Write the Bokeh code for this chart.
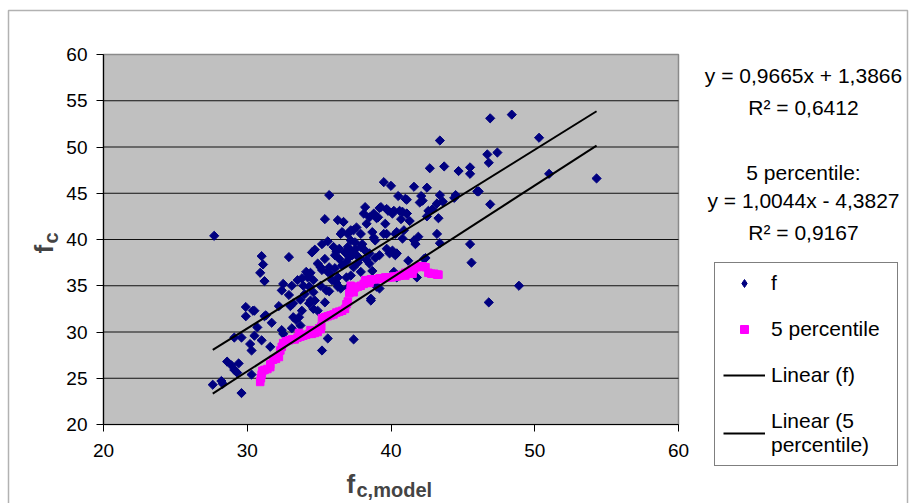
import numpy as np
from bokeh.plotting import figure
from bokeh.models import Range1d, Label, Legend, LegendItem, BoxAnnotation, FixedTicker
from bokeh.embed import file_html
from bokeh.resources import INLINE

# ---- measured strength vs. model strength --------------------------------
f_model = [
    27.7, 27.6, 28.2, 28.3, 28.6, 28.9, 29.4, 29.1, 29.3, 29.6, 29.1, 29.6, 30.3,
    29.9, 29.9, 30.4, 30.2, 30.3, 30.7, 30.5, 31.0, 31.6, 31.2, 31.7, 30.5, 31.3,
    32.2, 31.0, 31.1, 30.9, 31.2, 32.9, 32.4, 32.9, 33.2, 33.7, 33.8, 33.2, 34.3,
    34.6, 34.7, 33.7, 33.1, 32.5, 35.2, 35.6, 37.4, 35.4, 35.7, 34.6, 35.1, 33.9,
    33.5, 34.2, 32.5, 33.1, 36.2, 36.5, 37.2, 37.0, 38.6, 39.2, 35.6, 35.2,
    39.5, 40.0, 40.5, 35.7, 38.2, 39.2, 39.7, 40.2, 38.1, 38.5, 39.0, 35.4, 36.3,
    36.7, 38.3, 39.6, 37.6, 37.4, 36.6, 38.7, 40.4, 39.7, 38.8, 35.6, 35.2, 37.2,
    37.5, 34.7, 34.5, 36.0, 36.4, 37.0, 37.2, 37.9, 38.2, 38.5, 39.7, 40.1, 40.4,
    39.2, 36.1, 35.4, 36.4, 37.1, 37.6, 34.9, 35.7, 36.6, 37.4, 38.5, 37.9, 38.7,
    34.1, 34.4, 35.8, 36.3, 40.2, 40.4,
    42.7, 43.7, 44.7, 45.5, 45.5, 46.7, 47.4, 46.8, 46.9, 46.1, 45.5, 45.6, 43.4,
    41.6, 42.5, 41.1, 42.1, 42.0, 43.4, 43.2, 43.6, 44.4, 42.6, 42.5, 43.3, 40.8,
    41.1, 40.7, 40.3, 41.9, 43.2, 43.4, 40.8, 41.6, 41.7, 40.3, 41.2, 42.4, 41.8,
    46.9, 48.4, 50.3, 51.0, 54.3, 48.9, 46.8,
    33.6, 33.0, 33.4, 34.0, 34.3, 34.4, 34.9, 35.5, 35.9, 36.1, 36.3, 36.9, 38.6,
    39.0, 39.9, 40.2, 41.3, 40.9, 42.3, 33.8, 34.6, 34.2, 35.1, 36.5, 37.0, 37.2,
    37.9, 38.9, 39.5, 39.1, 38.8, 39.3, 39.8, 40.1, 40.6, 41.0, 41.1, 42.2, 42.9,
    44.5, 46.0, 36.8, 37.3, 37.8, 38.0, 37.5, 36.9, 38.3, 37.7, 36.2, 38.9, 32.4,
    33.7, 32.7,
]
f_c = [
    40.4, 24.3, 24.7, 24.4, 26.8, 26.4, 26.6, 25.9, 25.6, 23.4, 29.4, 29.4, 25.4,
    32.7, 31.7, 32.3, 28.7, 28.0, 30.5, 29.6, 29.1, 28.4, 31.7, 31.0, 32.3, 31.8,
    32.8, 38.2, 37.3, 36.4, 35.5, 38.1, 34.5, 34.0, 33.1, 33.5, 32.3, 31.6, 33.1,
    32.5, 33.4, 30.7, 30.4, 29.8, 28.0, 29.3, 29.2, 33.2, 34.4, 34.3, 35.0, 35.0,
    35.6, 35.9, 35.2, 35.0, 35.3, 34.7, 36.1, 34.8, 33.4, 34.7, 36.5, 36.7,
    46.2, 45.8, 44.7, 44.8, 43.5, 43.4, 43.3, 43.1, 42.8, 42.4, 42.3, 42.2, 42.1,
    41.9, 41.7, 41.7, 41.3, 41.0, 40.8, 40.8, 40.8, 40.6, 40.2, 39.8, 39.5, 39.9,
    39.7, 38.9, 38.6, 39.2, 39.0, 39.2, 38.8, 39.2, 38.8, 38.5, 39.0, 38.8, 38.5,
    38.3, 38.3, 37.9, 37.9, 38.1, 38.3, 37.4, 37.0, 37.2, 37.0, 37.4, 36.5, 36.6,
    36.5, 36.4, 36.3, 35.9, 36.5, 35.9,
    47.7, 47.9, 47.4, 47.8, 47.1, 49.2, 49.4, 48.3, 43.8, 45.2, 39.5, 37.5, 50.7,
    45.7, 45.6, 44.3, 44.7, 44.0, 44.8, 43.9, 44.1, 44.5, 43.1, 42.5, 42.3, 43.0,
    42.8, 42.2, 40.6, 40.3, 40.6, 39.6, 40.1, 39.9, 39.5, 38.3, 37.7, 38.0, 35.9,
    53.1, 53.5, 51.0, 47.1, 46.6, 35.0, 33.2,
    31.6, 32.8, 31.3, 34.1, 34.9, 33.4, 32.3, 34.5, 35.6, 36.9, 34.9, 35.9, 33.6,
    34.9, 38.5, 38.5, 42.0, 41.0, 37.9, 35.8, 35.6, 36.3, 37.0, 40.6, 40.6, 41.0,
    40.6, 39.9, 40.6, 42.4, 42.8, 43.5, 43.1, 42.8, 43.1, 44.4, 42.8, 44.2, 43.3,
    44.8, 45.2, 38.6, 38.3, 38.0, 39.5, 38.9, 37.6, 37.8, 37.5, 38.7, 38.0, 30.2,
    29.5, 29.1,
]

# ---- 5 percentile series ---------------------------------------------------
p5_model = [
    30.9, 30.95, 31.0, 31.05, 31.2, 31.4, 31.6, 31.6, 31.8, 32.0, 32.2, 32.3, 32.4,
    32.5, 32.7, 32.9, 33.1, 33.3, 33.5, 33.7, 33.9, 34.1, 34.3, 34.5, 34.7, 34.9,
    35.1, 35.15, 35.2, 35.4, 35.6, 35.8, 36.0, 36.2, 36.4, 36.6, 36.8, 36.9, 37.0,
    37.1, 37.2, 37.3, 37.5, 37.7, 37.9, 38.1, 38.3, 38.4, 38.6, 38.8, 39.0, 39.2,
    39.4, 39.6, 39.8, 40.0, 40.2, 40.4, 40.6, 40.8, 41.0, 41.2, 41.4, 41.6, 41.8,
    42.0, 42.2, 42.4, 42.6, 42.8, 43.0, 43.2, 43.3,
    33.6, 34.4, 35.0, 37.2, 37.4, 38.2, 38.5, 41.0, 41.5,
]
p5_c = [
    24.6, 25.0, 25.4, 25.8, 25.9, 26.0, 26.2, 26.5, 27.0, 27.1, 27.3, 28.0, 28.4,
    28.8, 29.0, 29.1, 29.2, 29.2, 29.4, 29.5, 29.6, 29.7, 29.8, 29.8, 29.9, 30.0,
    30.3, 30.6, 31.5, 31.6, 31.7, 31.8, 31.9, 32.1, 32.2, 32.3, 32.5, 33.0, 33.3,
    34.2, 34.5, 34.7, 34.8, 34.9, 35.0, 35.2, 35.4, 35.6, 35.7, 35.7, 35.7, 35.8,
    35.8, 35.9, 35.9, 35.9, 36.0, 36.0, 36.1, 36.2, 36.4, 36.5, 36.7, 36.8, 37.0,
    37.1, 37.1, 37.0, 36.4, 36.3, 36.3, 36.2, 36.2,
    29.9, 30.2, 30.4, 35.0, 34.3, 35.6, 35.3, 36.1, 36.3,
]

# linear trend coefficients (slope, intercept) and R^2
fit_f = (0.9665, 1.3866)
fit_p5 = (1.0044, -4.3827)
r2_f = 0.6412
r2_p5 = 0.9167

x_ticks = [20, 30, 40, 50, 60]
y_ticks = [20, 25, 30, 35, 40, 45, 50, 55, 60]

# ---- canvas geometry ---------------------------------------------------------
# The frame fills the whole canvas; the axes are pinned to the plot-area corner
# so that titles, legend and equations can sit around it without being clipped.
W, H = 910, 503
FL, FR, FT, FB = 103, 678, 54, 424          # plot-area edges in canvas pixels
X0, X1, Y0, Y1 = x_ticks[0], x_ticks[-1], y_ticks[0], y_ticks[-1]
kx = (X1 - X0) / (FR - FL)
ky = (Y1 - Y0) / (FB - FT)


def dx(px):
    return X0 + (px - FL) * kx


def dy(py):
    return Y0 + (FB - py) * ky


FONT = "Liberation Sans"
NAVY = "#000080"
MAGENTA = "#FF00FF"

p = figure(width=W, height=H,
           x_range=Range1d(dx(0), dx(W)), y_range=Range1d(dy(H), dy(0)),
           output_backend="svg", toolbar_location=None,
           min_border=0, min_border_left=0, min_border_right=0,
           min_border_top=0, min_border_bottom=0)
p.background_fill_color = "white"
p.border_fill_color = "white"
p.outline_line_color = None
p.grid.visible = False

# plot area
p.quad(left=X0, right=X1, bottom=Y0, top=Y1, fill_color="#C0C0C0",
       line_color="#8a8a8a", line_width=1.5)
gy = y_ticks[1:-1]
p.segment(x0=[X0] * len(gy), x1=[X1] * len(gy), y0=gy, y1=gy,
          line_color="#111111", line_width=1)

for ax, ticks, standoff, loc in ((p.xaxis, x_ticks, 12, Y0),
                                  (p.yaxis, y_ticks, 9, X0)):
    ax.fixed_location = loc
    ax.bounds = (ticks[0], ticks[-1])
    ax.ticker = FixedTicker(ticks=ticks)
    ax.major_tick_out = 7
    ax.major_tick_in = 0
    ax.minor_tick_line_color = None
    ax.axis_line_color = "black"
    ax.axis_line_width = 1.2
    ax.major_tick_line_color = "black"
    ax.major_label_text_font = FONT
    ax.major_label_text_font_size = "19px"
    ax.major_label_text_color = "black"
    ax.major_label_standoff = standoff

# ---- data --------------------------------------------------------------------
r_f = p.scatter(f_model, f_c, marker="square", angle=np.pi / 4, size=6.5,
                fill_color=NAVY, line_color=NAVY)
r_p5 = p.scatter(p5_model, p5_c, marker="square", size=7.5,
                 fill_color=MAGENTA, line_color=MAGENTA)

xs_fit = [min(f_model), max(f_model)]
r_lf = p.line(xs_fit, [fit_f[0] * x + fit_f[1] for x in xs_fit],
              line_color="black", line_width=2)
r_lp5 = p.line(xs_fit, [fit_p5[0] * x + fit_p5[1] for x in xs_fit],
               line_color="black", line_width=2)

# legend swatches: the legend draws markers unrotated and at their own size,
# so small stand-in glyphs with no visible point carry the legend symbols
key_f = p.scatter(x=[np.nan], y=[np.nan], marker="diamond", size=11,
                  fill_color=NAVY, line_color=NAVY)
key_p5 = p.scatter(x=[np.nan], y=[np.nan], marker="square", size=7,
                   fill_color=MAGENTA, line_color=MAGENTA)

# ---- legend --------------------------------------------------------------------
legend = Legend(items=[
    LegendItem(label="f", renderers=[key_f]),
    LegendItem(label="5 percentile", renderers=[key_p5]),
    LegendItem(label="Linear (f)", renderers=[r_lf]),
    LegendItem(label="Linear (5\npercentile)", renderers=[r_lp5]),
], location=(714, H - 466), margin=0, padding=8, spacing=22,
    glyph_width=42, glyph_height=20, label_height=20, label_width=118,
    label_standoff=6, label_text_font=FONT, label_text_font_size="21px",
    label_text_color="black", border_line_color="black", border_line_width=1,
    background_fill_color="white", background_fill_alpha=1.0)
p.add_layout(legend)

# ---- trend-line equations ------------------------------------------------------


def fmt(v):
    return f"{abs(v):.4f}".replace(".", ",")


eq_lines = [
    (f"y = {fmt(fit_f[0])}x {'+' if fit_f[1] >= 0 else '-'} {fmt(fit_f[1])}", 75),
    (f"R² = {fmt(r2_f)}", 107),
    ("5 percentile:", 172),
    (f"y = {fmt(fit_p5[0])}x {'+' if fit_p5[1] >= 0 else '-'} {fmt(fit_p5[1])}", 200),
    (f"R² = {fmt(r2_p5)}", 232),
]
for txt, py in eq_lines:
    p.add_layout(Label(x=dx(803), y=dy(py), text=txt, text_align="center",
                       text_baseline="middle", text_font=FONT,
                       text_font_size="21px", text_color="black"))

# ---- axis titles -------------------------------------------------------------
p.add_layout(Label(x=dx(346), y=dy(483), text="f", text_font=FONT,
                   text_font_style="bold", text_font_size="26px",
                   text_baseline="alphabetic", text_align="left"))
p.add_layout(Label(x=dx(356), y=dy(489), text="c,model", text_font=FONT,
                   text_font_style="bold", text_font_size="20px",
                   text_baseline="alphabetic", text_align="left"))
p.add_layout(Label(x=dx(43), y=dy(253), text="f", text_font=FONT,
                   text_font_style="bold", text_font_size="26px", angle=np.pi / 2,
                   text_baseline="alphabetic", text_align="left"))
p.add_layout(Label(x=dx(50), y=dy(243), text="c", text_font=FONT,
                   text_font_style="bold", text_font_size="20px", angle=np.pi / 2,
                   text_baseline="alphabetic", text_align="left"))

# ---- chart border --------------------------------------------------------------
p.add_layout(BoxAnnotation(left=dx(8), right=dx(907), top=dy(10), bottom=dy(520),
                           fill_alpha=0, line_color="black", line_width=1.5))

open("out.html", "w").write(file_html(p, INLINE))
